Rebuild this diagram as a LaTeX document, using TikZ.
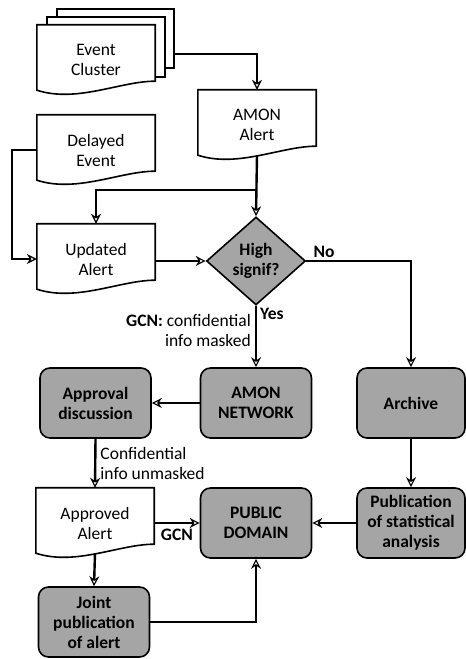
\documentclass[tikz,border=0pt]{standalone}
\usepackage{fontspec}
\setmainfont{Carlito}
\usepackage{tikz}
\usetikzlibrary{shapes.geometric, arrows.meta, positioning, calc, backgrounds}
\definecolor{boxgray}{RGB}{165,165,165}
\newcommand{\flowfont}{\fontsize{17.5}{20}\selectfont}

\tikzset{
    doc/.style={font=\flowfont, rectangle, minimum width=118pt, minimum height=70pt, inner sep=0pt, align=center},
    sheet/.style={draw, line width=1.6pt, fill=white, inner sep=0pt},
    greybox/.style={rectangle, rounded corners=10pt, draw, line width=1.6pt, fill=boxgray,
        minimum width=111pt, minimum height=70pt, inner sep=0pt, align=center, font=\flowfont\bfseries},
    decision/.style={diamond, draw, line width=1.6pt, fill=boxgray, minimum width=99pt,
        minimum height=88pt, inner sep=0pt, align=center, font=\flowfont\bfseries},
    line/.style={line width=2.4pt},
    conn/.style={line, -{Stealth[open, length=10pt, width=10pt, line width=1.2pt]}},
    lbl/.style={font=\flowfont, inner sep=1pt},
    blbl/.style={font=\flowfont\bfseries, inner sep=1pt}
}

\begin{document}
\begin{tikzpicture}[x=1pt, y=1pt]
    \useasboundingbox (0,0) rectangle (466,659);

    % documents
    \node[doc] (cluster) at (96,599) {Event\\Cluster};
    \node[doc] (amonalert) at (257,534) {AMON\\Alert};
    \node[doc] (delayed) at (96,509) {Delayed\\Event};
    \node[doc] (updated) at (96,400) {Updated\\Alert};
    \node[doc] (approved) at (95,136) {Approved\\Alert};

    % decision
    \node[decision] (signif) at (256,398) {High\\signif?};

    % grey boxes
    \node[greybox] (approval) at (95.5,256) {Approval\\discussion};
    \node[greybox] (amonnet) at (256,256) {AMON\\NETWORK};
    \node[greybox, minimum width=108pt] (archive) at (411,256) {Archive};
    \node[greybox] (public) at (256,136) {PUBLIC\\DOMAIN};
    \node[greybox, minimum width=108pt] (pubstat) at (411,136) {Publication\\of statistical\\analysis};
    \node[greybox] (joint) at (94,37) {Joint\\publication\\of alert};

    \begin{scope}[on background layer]
        % stacked sheets behind the cluster
        \node[sheet, minimum width=117pt, minimum height=59pt] (cluster3) at (115.5,620.5) {};
        \node[sheet, minimum width=118pt, minimum height=60pt] (cluster2) at (106,612) {};
        % wavy document outlines
        \foreach \d in {cluster, amonalert, delayed, updated, approved} {
            \draw[line width=1.6pt, fill=white] ($(\d.south west)+(0,5)$) |- (\d.north east)
                -- ($(\d.south east)+(0,14)$)
                .. controls ($(\d.south east)+(-35,14)$) and ($(\d.south west)+(40,-8)$) ..
                ($(\d.south west)+(0,5)$) -- cycle;
        }
    \end{scope}

    \coordinate (split) at (257,469);

    % connectors
    \draw[conn] ($(cluster3.south east)+(0,15)$) -| (amonalert.north);
    \draw[conn] ($(amonalert.south)+(0,5)$) -- (signif.north);
    \draw[conn] (split) -| (updated.north);
    \draw[conn] (delayed.west) -- ++(-25,0) |- (updated.west);
    \draw[conn] (signif.west -| updated.east) -- (signif.west);
    \draw[conn] (signif.east) -| (archive.north);
    \draw[conn] (signif.south) -- (amonnet.north)
        node[lbl, pos=0.4, left=3pt, align=right] (masked) {\textbf{GCN:} confidential\\info masked};
    \draw[conn] (amonnet.west) -- (approval.east);
    \draw[conn] (approval.south) -- (approved.north)
        node[lbl, midway, right=3pt, align=left] (unmasked) {Confidential\\info unmasked};
    \draw[conn] (archive.south) -- (pubstat.north);
    \draw[conn] (approved.east |- public.west) -- (public.west)
        node[blbl, midway, below=4pt] (gcn) {GCN};
    \draw[conn] (pubstat.west) -- (public.east);
    \draw[conn] ($(approved.south)+(0,5)$) -- (joint.north);
    \draw[conn] (joint.east) -| (public.south);

    % branch labels
    \node[blbl, anchor=south west] (no) at ($(signif.east)+(6,2)$) {No};
    \node[blbl, anchor=north west] (yes) at ($(signif.south)+(3,-1)$) {Yes};
\end{tikzpicture}
\end{document}
